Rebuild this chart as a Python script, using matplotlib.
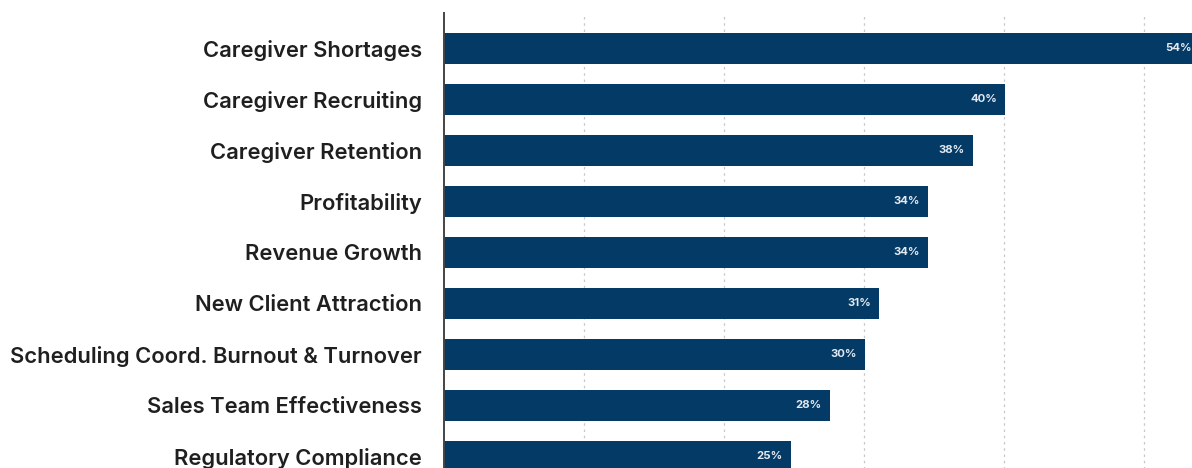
#!/usr/bin/env python3
"""Horizontal bar chart of top home care business challenges."""

import matplotlib.pyplot as plt
import numpy as np

categories = [
    "Caregiver Shortages",
    "Caregiver Recruiting",
    "Caregiver Retention",
    "Profitability",
    "Revenue Growth",
    "New Client Attraction",
    "Scheduling Coord. Burnout & Turnover",
    "Sales Team Effectiveness",
    "Regulatory Compliance",
]
# bar lengths as drawn (%), and the rounded labels printed on them
values = [54.0, 40.1, 37.8, 34.6, 34.6, 31.1, 30.1, 27.6, 24.8]
value_labels = ["54%", "40%", "38%", "34%", "34%", "31%", "30%", "28%", "25%"]

BAR_COLOR = "#033a66"
LABEL_COLOR = "#1f1f1f"
FONT = "Inter"


def main():
    W, H = 1192, 468
    fig = plt.figure(figsize=(W / 100, H / 100), dpi=100)

    # axes extends beyond the figure: the original is cropped on the right/bottom
    left_px, top_px = 444, 13
    px_per_pct = 14.0
    px_per_row = 51.0
    xmax = 60
    ylo, yhi = -0.69, 9.0
    ax_w = xmax * px_per_pct
    ax_h = (yhi - ylo) * px_per_row
    ax = fig.add_axes([left_px / W, 1 - (top_px + ax_h) / H, ax_w / W, ax_h / H])

    y = np.arange(len(categories))
    bars = ax.barh(y, values, height=0.61, color=BAR_COLOR, zorder=3)

    for bar, lab in zip(bars, value_labels):
        ax.text(bar.get_width() - 0.6, bar.get_y() + bar.get_height() / 2,
                lab, ha="right", va="center", color="#e3e9f0",
                fontsize=8.2, fontweight="bold", family=FONT, zorder=4)

    ax.set_xlim(0, xmax)
    ax.set_ylim(yhi, ylo)
    ax.set_yticks(y)
    ax.set_yticklabels(categories, fontsize=15.8, fontweight="semibold",
                       family=FONT, color=LABEL_COLOR)
    ax.tick_params(axis="y", length=0, pad=16)
    ax.set_xticks([10, 20, 30, 40, 50])
    ax.tick_params(axis="x", length=0, labelbottom=False)
    ax.grid(axis="x", color="#c8c8c8", linestyle=(0, (2, 3)), linewidth=0.9, zorder=0)

    for s in ("top", "right", "bottom"):
        ax.spines[s].set_visible(False)
    ax.spines["left"].set_color("#444444")
    ax.spines["left"].set_linewidth(1.4)
    ax.spines["left"].set_zorder(5)

    fig.savefig("out.png", dpi=100)
    plt.close(fig)


if __name__ == "__main__":
    main()
